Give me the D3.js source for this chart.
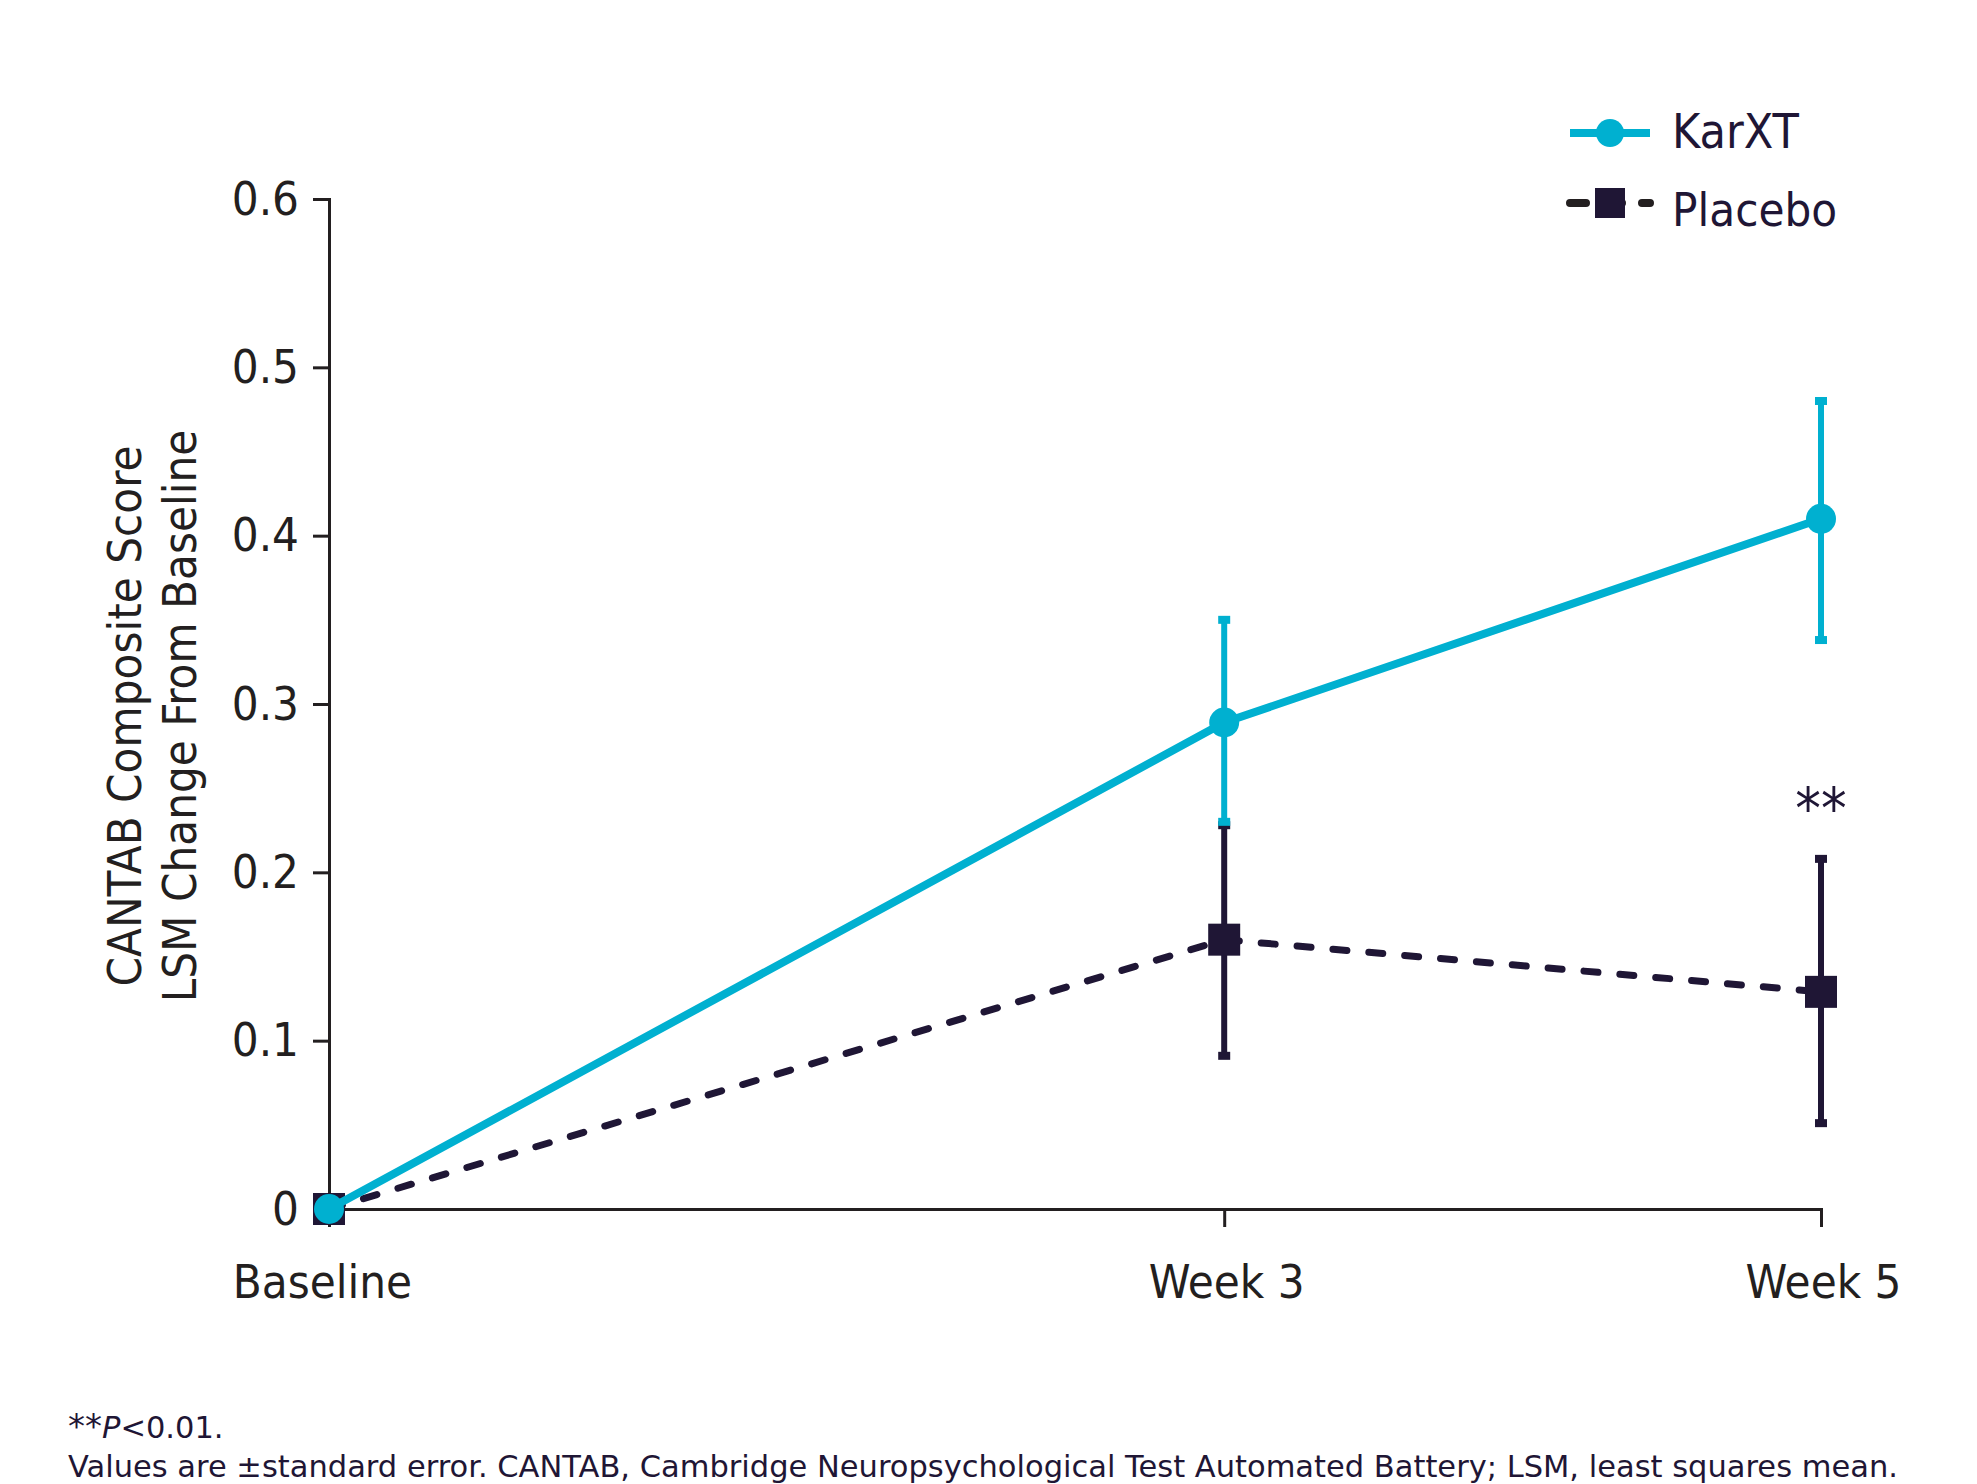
<!DOCTYPE html>
<html>
<head>
<meta charset="utf-8">
<script src="https://cdn.jsdelivr.net/npm/d3@7"></script>
<style>
  body { margin: 0; background: #fff; }
  svg { display: block; }
  .cond { font-family: "DejaVu Sans Condensed", "DejaVu Sans", sans-serif; font-stretch: condensed; }
</style>
</head>
<body>
<svg id="chart"></svg>
<script>
// data
const timepoints = ["Baseline", "Week 3", "Week 5"];
const weeks = [0, 3, 5];
const karxtMean = [0, 0.289, 0.410];
const karxtLower = [null, 0.230, 0.338];
const karxtUpper = [null, 0.350, 0.480];
const placeboMean = [0, 0.160, 0.129];
const placeboLower = [null, 0.091, 0.051];
const placeboUpper = [null, 0.228, 0.208];
const yTicks = [0, 0.1, 0.2, 0.3, 0.4, 0.5, 0.6];

const W = 1977, H = 1484;
const cyan = "#00b0d0", navy = "#1f1635", ink = "#231f20";

const svg = d3.select("#chart").attr("width", W).attr("height", H);

const x = d3.scaleLinear().domain([0, 5]).range([329, 1821]);
const y = d3.scaleLinear().domain([0, 0.6]).range([1209, 199]);

function rows(mean, lo, hi) {
    return weeks.map((w, i) => ({ week: w, v: mean[i], lo: lo[i], hi: hi[i] }));
}
const karxt = rows(karxtMean, karxtLower, karxtUpper);
const placebo = rows(placeboMean, placeboLower, placeboUpper);

// axes
const yAxis = svg.append("g")
    .attr("transform", `translate(${x(0)},0)`)
    .call(d3.axisLeft(y).tickValues(yTicks).tickSize(16).tickPadding(14)
        .tickFormat(d => d === 0 ? "0" : d.toFixed(1)));
const xAxis = svg.append("g")
    .attr("transform", `translate(0,${y(0)})`)
    .call(d3.axisBottom(x).tickValues(weeks).tickSize(18).tickPadding(38)
        .tickFormat((d, i) => timepoints[i]));

[yAxis, xAxis].forEach(g => {
    g.select(".domain").attr("stroke", ink).attr("stroke-width", 3);
    g.selectAll(".tick line").attr("stroke", ink).attr("stroke-width", 3);
    g.selectAll(".tick text").attr("class", "cond").attr("fill", ink).attr("font-size", 47);
});
xAxis.selectAll(".tick text").attr("dy", "0.71em").attr("dx", (d, i) => i === 0 ? -7 : 2);

// y label
const ylab = svg.append("text").attr("class", "cond")
    .attr("transform", `translate(0,716) rotate(-90)`)
    .attr("text-anchor", "middle").attr("fill", ink).attr("font-size", 47);
ylab.append("tspan").attr("x", 0).attr("y", 141).text("CANTAB Composite Score");
ylab.append("tspan").attr("x", 0).attr("y", 196).text("LSM Change From Baseline");

const line = d3.line().x(d => x(d.week)).y(d => y(d.v));

// placebo
svg.append("path").datum(placebo)
    .attr("d", line).attr("fill", "none").attr("stroke", navy)
    .attr("stroke-width", 7).attr("stroke-dasharray", "14,22").attr("stroke-linecap", "round");

function errorBars(data, color) {
    const g = svg.append("g");
    const eb = data.filter(d => d.lo != null);
    g.selectAll("line").data(eb).join("line")
        .attr("x1", d => x(d.week)).attr("x2", d => x(d.week))
        .attr("y1", d => y(d.lo)).attr("y2", d => y(d.hi))
        .attr("stroke", color).attr("stroke-width", 6);
    g.selectAll("rect").data(eb.flatMap(d => [d.lo, d.hi].map(v => ({ week: d.week, v }))))
        .join("rect")
        .attr("x", d => x(d.week) - 6).attr("y", d => y(d.v) - 4)
        .attr("width", 12).attr("height", 8).attr("fill", color);
}
errorBars(placebo, navy);

svg.append("g").selectAll("rect").data(placebo).join("rect")
    .attr("x", d => x(d.week) - 16).attr("y", d => y(d.v) - 16)
    .attr("width", 32).attr("height", 32).attr("fill", navy);

// KarXT
svg.append("path").datum(karxt)
    .attr("d", line).attr("fill", "none").attr("stroke", cyan).attr("stroke-width", 8);
errorBars(karxt, cyan);
svg.append("g").selectAll("circle").data(karxt).join("circle")
    .attr("cx", d => x(d.week)).attr("cy", d => y(d.v)).attr("r", 15).attr("fill", cyan);

// significance
svg.append("text").attr("class", "cond")
    .attr("x", x(5)).attr("y", 828).attr("text-anchor", "middle")
    .attr("fill", navy).attr("font-size", 57).text("**");

// legend
const leg = svg.append("g");
leg.append("line").attr("x1", 1570).attr("x2", 1650).attr("y1", 133).attr("y2", 133)
    .attr("stroke", cyan).attr("stroke-width", 8);
leg.append("circle").attr("cx", 1610).attr("cy", 133).attr("r", 14).attr("fill", cyan);
leg.append("text").attr("class", "cond").attr("x", 1672).attr("y", 148)
    .attr("fill", navy).attr("font-size", 48).text("KarXT");
leg.append("line").attr("x1", 1570).attr("x2", 1650).attr("y1", 203).attr("y2", 203)
    .attr("stroke", ink).attr("stroke-width", 8).attr("stroke-linecap", "round")
    .attr("stroke-dasharray", "16,20");
leg.append("rect").attr("x", 1595).attr("y", 188).attr("width", 30).attr("height", 30).attr("fill", navy);
leg.append("text").attr("class", "cond").attr("x", 1672).attr("y", 226)
    .attr("fill", navy).attr("font-size", 47).text("Placebo");

// footnotes
const fn = svg.append("g").attr("font-family", "'DejaVu Sans', Verdana, sans-serif")
    .attr("font-size", 30.5).attr("fill", navy);
const f1 = fn.append("text").attr("x", 68).attr("y", 1438);
f1.append("tspan").attr("font-size", 34).text("**");
f1.append("tspan").attr("font-style", "italic").text("P");
f1.append("tspan").text("<0.01.");
fn.append("text").attr("x", 68).attr("y", 1477)
    .text("Values are \u00b1standard error. CANTAB, Cambridge Neuropsychological Test Automated Battery; LSM, least squares mean.");
</script>
</body>
</html>
